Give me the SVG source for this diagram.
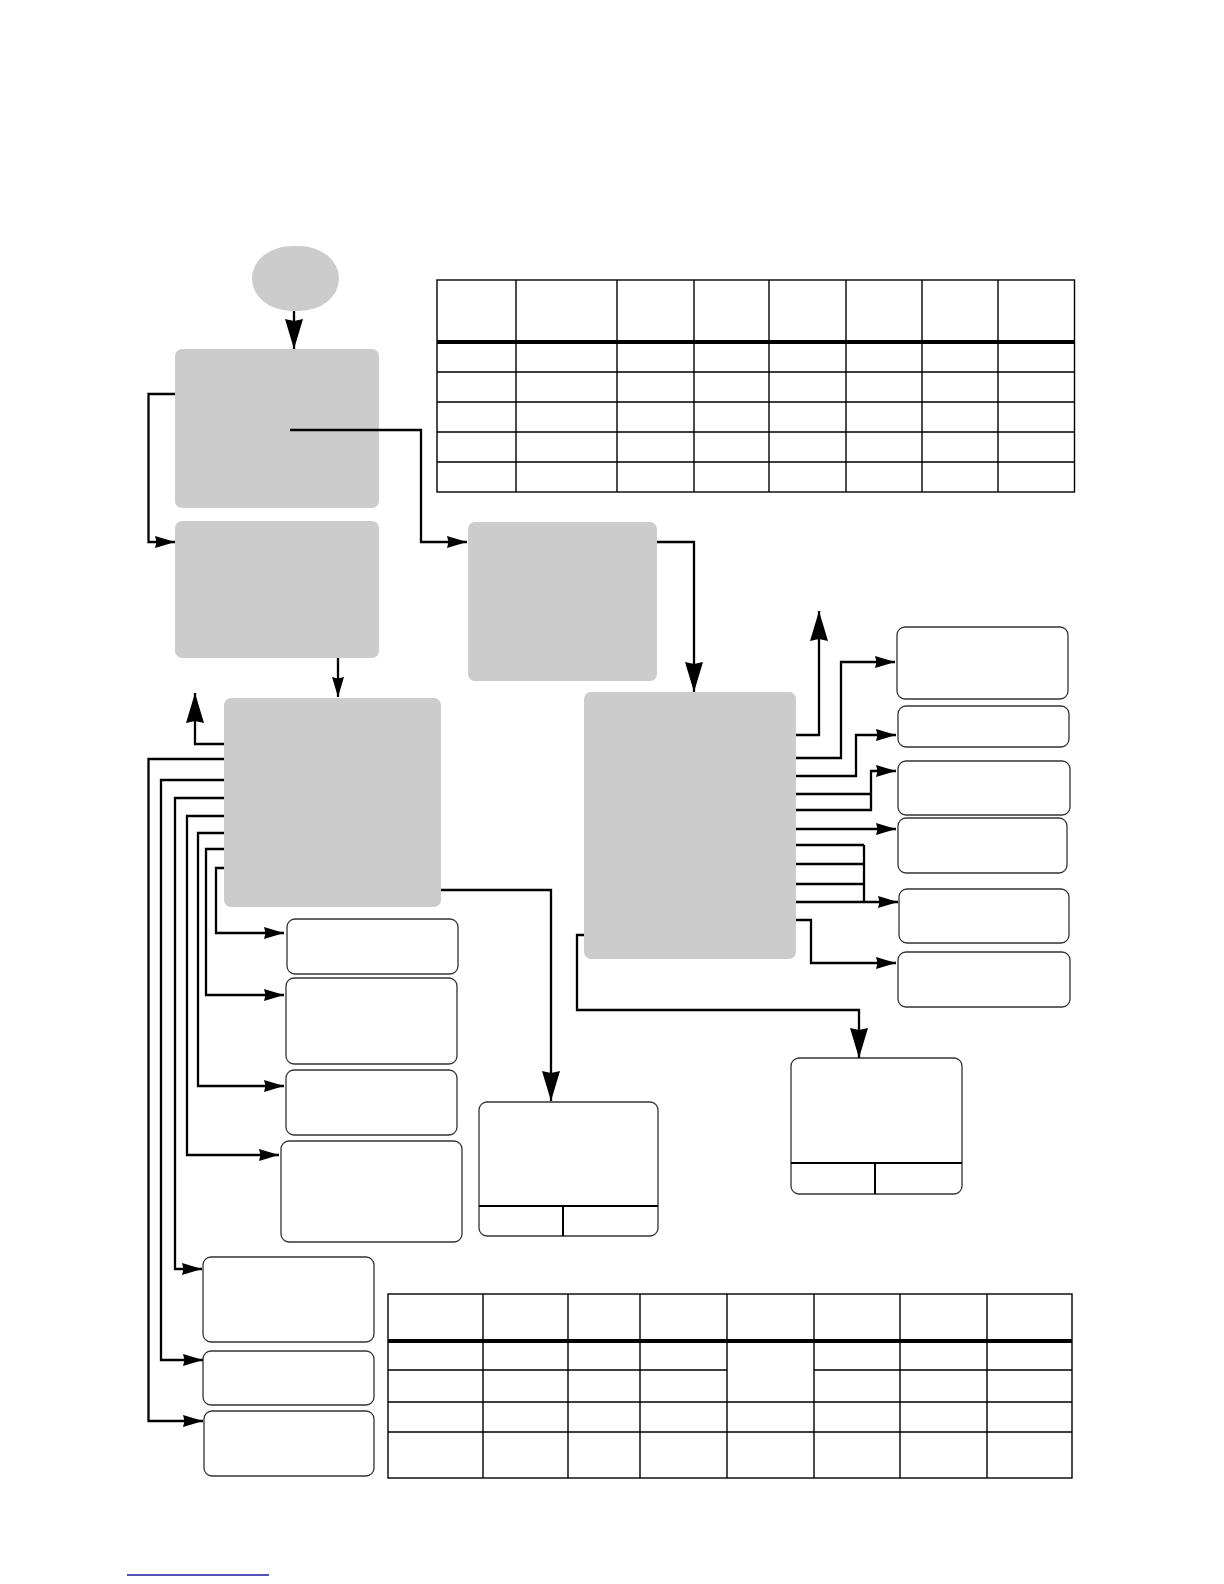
<svg xmlns="http://www.w3.org/2000/svg" width="1224" height="1584" viewBox="0 0 1224 1584">
<style>
.g{fill:#cccccc;stroke:none}
.w{fill:#ffffff;stroke:#333333;stroke-width:1.3}
.c{fill:none;stroke:#000000;stroke-width:2.3}
.t{fill:none;stroke:#000000;stroke-width:1.4}
.tk{fill:none;stroke:#000000;stroke-width:4}
.s{marker-end:url(#as)}
.b{marker-end:url(#ab)}
</style>
<defs>
<marker id="as" markerUnits="userSpaceOnUse" markerWidth="20" markerHeight="12" viewBox="0 0 20 12" refX="20" refY="6" orient="auto">
<path d="M0,0 L20,6 L0,12 L1.5,6 Z" fill="#000"/>
</marker>
<marker id="ab" markerUnits="userSpaceOnUse" markerWidth="30" markerHeight="18" viewBox="0 0 30 18" refX="30" refY="9" orient="auto">
<path d="M0,0 L30,9 L0,18 L2,9 Z" fill="#000"/>
</marker>
</defs>
<rect width="1224" height="1584" fill="#ffffff"/>
<g id="table-top">
<rect class="t" x="437" y="280" width="637.5" height="212"/>
<path class="t" d="M516,280V492M617,280V492M694,280V492M769,280V492M846,280V492M922,280V492M998,280V492"/>
<path class="t" d="M437,372H1074.5M437,402H1074.5M437,432H1074.5M437,462H1074.5"/>
<path class="tk" d="M437,342H1074.5"/>
</g>
<g id="table-bottom">
<rect class="t" x="388" y="1294" width="684" height="184"/>
<path class="t" d="M483,1294V1478M568,1294V1478M640,1294V1478M727,1294V1478M814,1294V1478M900,1294V1478M987,1294V1478"/>
<path class="t" d="M388,1370H727M814,1370H1072M388,1402H1072M388,1432H1072"/>
<path class="tk" d="M388,1341H1072"/>
</g>
<g id="start"><rect class="g" x="252" y="246" width="87" height="65" rx="40" ry="32"/></g>
<g id="box1"><rect class="g" x="175" y="349" width="204" height="159" rx="7"/></g>
<g id="box2"><rect class="g" x="175" y="521" width="204" height="137" rx="7"/></g>
<g id="box3"><rect class="g" x="468" y="522" width="189" height="159" rx="7"/></g>
<g id="box4"><rect class="g" x="224" y="698" width="217" height="209" rx="7"/></g>
<g id="box13"><rect class="g" x="584" y="692" width="212" height="267" rx="7"/></g>
<g id="box5"><rect class="w" x="287" y="919" width="171" height="55" rx="8"/></g>
<g id="box6"><rect class="w" x="286" y="978" width="171" height="86" rx="8"/></g>
<g id="box7"><rect class="w" x="286" y="1070" width="171" height="65" rx="8"/></g>
<g id="box8"><rect class="w" x="281" y="1141" width="181" height="101" rx="8"/></g>
<g id="box9"><rect class="w" x="203" y="1257" width="171" height="85" rx="8"/></g>
<g id="box10"><rect class="w" x="203" y="1351" width="171" height="54" rx="8"/></g>
<g id="box11"><rect class="w" x="204" y="1411" width="170" height="65" rx="8"/></g>
<g id="box12"><rect class="w" x="479" y="1102" width="179" height="134" rx="8"/><path class="t" d="M479,1206H658M563,1206V1236" style="stroke-width:2"/></g>
<g id="box14"><rect class="w" x="897" y="627" width="171" height="72" rx="8"/></g>
<g id="box15"><rect class="w" x="898" y="706" width="171" height="41" rx="8"/></g>
<g id="box16"><rect class="w" x="898" y="761" width="172" height="54" rx="8"/></g>
<g id="box17"><rect class="w" x="898" y="818" width="169" height="55" rx="8"/></g>
<g id="box18"><rect class="w" x="899" y="889" width="170" height="54" rx="8"/></g>
<g id="box19"><rect class="w" x="898" y="952" width="172" height="55" rx="8"/></g>
<g id="box20"><rect class="w" x="791" y="1058" width="171" height="136" rx="8"/><path class="t" d="M791,1163H962M875,1163V1194" style="stroke-width:2"/></g>
<g id="connectors">
<path class="c b" d="M294,311V349"/>
<path class="c s" d="M175,394H148.5V542H175"/>
<path class="c s" d="M290,430H421V542H467"/>
<path class="c s" d="M338,658V697"/>
<path class="c b" d="M224,744H195V693"/>
<path class="c b" d="M441,890H551V1101"/>
<path class="c b" d="M657,542H694V692"/>
<path class="c s" d="M224,759H148.5V1421H203"/>
<path class="c s" d="M224,780H161V1360H203"/>
<path class="c s" d="M224,798H175V1269H202"/>
<path class="c s" d="M224,816H187V1155H279"/>
<path class="c s" d="M224,833H198V1086H284"/>
<path class="c s" d="M224,849H206V995H284"/>
<path class="c s" d="M224,868H216V933H284"/>
<path class="c b" d="M796,735H819V611"/>
<path class="c s" d="M796,758H841V662H895"/>
<path class="c s" d="M796,776H856V735H896"/>
<path class="c" d="M796,794H871"/>
<path class="c s" d="M796,810H871V771H896"/>
<path class="c s" d="M796,829H896"/>
<path class="c" d="M796,845H864M796,864H864M796,884H864M864,845V902"/>
<path class="c s" d="M796,902H898"/>
<path class="c s" d="M796,920H811V963H896"/>
<path class="c b" d="M584,935H577V1010H859V1058"/>
</g>
<path d="M127,1575H269" stroke="#1a1aa0" stroke-width="1.5" fill="none"/>
</svg>
